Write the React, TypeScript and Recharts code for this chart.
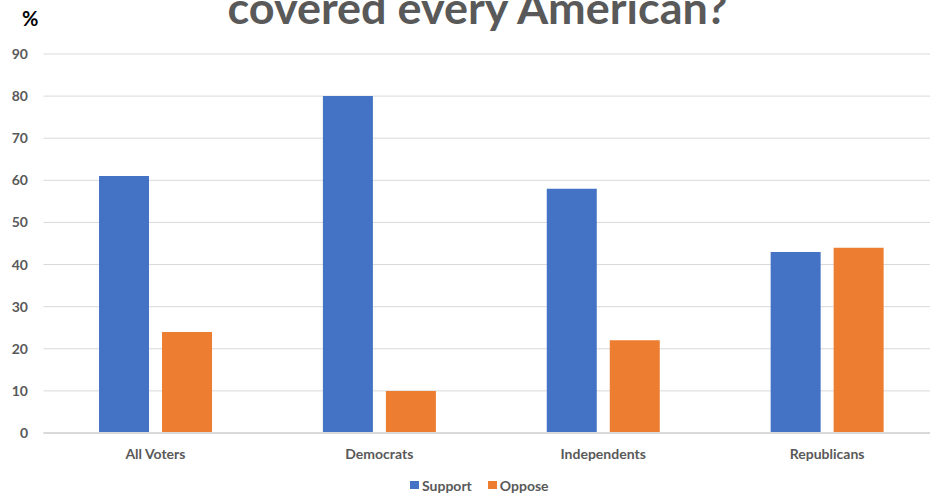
import React from "react";
import { BarChart, Bar, XAxis, YAxis, CartesianGrid, Legend, Customized } from "recharts";

const categories = ["All Voters", "Democrats", "Independents", "Republicans"];
const supportValues = [61, 80, 58, 43];
const opposeValues = [24, 10, 22, 44];
const yTicks = [0, 10, 20, 30, 40, 50, 60, 70, 80, 90];
const seriesNames = { support: "Support", oppose: "Oppose" };
const titleText = "covered every American?";
const unitLabel = "%";

const BLUE = "#4472C4";
const ORANGE = "#ED7D31";
const GRAY = "#595959";
const GRID = "#D9D9D9";
const FONT = "Lato, 'Noto Sans', sans-serif";

const data = categories.map((c, i) => ({
  name: c,
  support: supportValues[i],
  oppose: opposeValues[i],
}));

const Title = () => (
  <g>
    <text
      x={477.5}
      y={24}
      textAnchor="middle"
      fontFamily={FONT}
      fontWeight={700}
      fontSize={43}
      fill={GRAY}
      textLength={500}
      lengthAdjust="spacingAndGlyphs"
    >
      {titleText}
    </text>
    <text x={22} y={26} fontFamily={FONT} fontWeight={700} fontSize={20} fill="#000">
      {unitLabel}
    </text>
  </g>
);

const LegendContent = () => (
  <div
    style={{
      display: "flex",
      alignItems: "center",
      height: 20,
      paddingLeft: 410,
      fontFamily: FONT,
      fontWeight: 700,
      fontSize: 14,
      color: GRAY,
    }}
  >
    <span style={{ width: 9, height: 8, background: BLUE, display: "inline-block", marginRight: 3 }} />
    <span style={{ marginRight: 16 }}>{seriesNames.support}</span>
    <span style={{ width: 9, height: 8, background: ORANGE, display: "inline-block", marginRight: 3 }} />
    <span>{seriesNames.oppose}</span>
  </div>
);

export default function App() {
  return (
    <div
      style={{
        position: "absolute",
        left: 0,
        top: 0,
        width: 930,
        height: 497,
        overflow: "hidden",
        background: "#fff",
      }}
    >
      <BarChart
        width={940}
        height={497}
        data={data}
        margin={{ top: 54, right: 1, left: 0, bottom: 2 }}
        barCategoryGap="24.8%"
        barGap={13}
      >
        <CartesianGrid vertical={false} stroke={GRID} strokeWidth={1} />
        <XAxis
          dataKey="name"
          height={42}
          tickLine={false}
          tickSize={0}
          tickMargin={16}
          axisLine={{ stroke: GRID, strokeWidth: 2 }}
          tick={{ fill: GRAY, fontFamily: FONT, fontWeight: 700, fontSize: 14 }}
        />
        <YAxis
          width={43.5}
          domain={[0, 90]}
          ticks={yTicks}
          interval={0}
          axisLine={false}
          tickLine={false}
          tickSize={0}
          tickMargin={15.5}
          tick={{ fill: GRAY, fontFamily: FONT, fontWeight: 700, fontSize: 14 }}
        />
        <Legend verticalAlign="bottom" height={20} content={<LegendContent />} />
        <Bar dataKey="support" name={seriesNames.support} fill={BLUE} isAnimationActive={false} />
        <Bar dataKey="oppose" name={seriesNames.oppose} fill={ORANGE} isAnimationActive={false} />
        <Customized component={Title} />
      </BarChart>
    </div>
  );
}
